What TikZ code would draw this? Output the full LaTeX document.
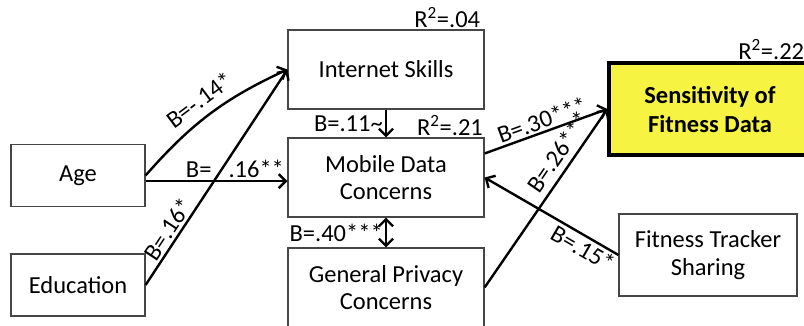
\documentclass[tikz,border=0pt]{standalone}
\usepackage{fontspec}
\setmainfont{Carlito}
\usetikzlibrary{arrows.meta}
\definecolor{boxline}{RGB}{70,70,70}
\definecolor{sensfill}{RGB}{246,243,66}

\begin{document}
\begin{tikzpicture}[x=0.025cm,y=-0.025cm,
    box/.style={draw=boxline,line width=0.8pt,align=center,inner sep=0pt,
        font=\fontsize{17.4}{19.5}\selectfont},
    lab/.style={font=\fontsize{17.4}{19}\selectfont,inner sep=1.5pt},
    path/.style={-{Straight Barb[length=5pt,width=10pt]},line width=1.7pt}]
    \useasboundingbox (0,0) rectangle (804,325);
    % boxes
    \node[box,minimum width=3.35cm,minimum height=1.55cm] (age) at (78,175.5) {Age};
    \node[box,minimum width=3.35cm,minimum height=1.55cm] (edu) at (78,285) {Education};
    \node[box,minimum width=4.9cm,minimum height=1.975cm] (inet) at (386,69.5) {Internet Skills};
    \node[box,minimum width=4.9cm,minimum height=1.975cm] (mobile) at (386,177.5) {Mobile Data\\Concerns};
    \node[box,minimum width=4.9cm,minimum height=1.975cm] (privacy) at (386,287.5) {General Privacy\\Concerns};
    \node[box,draw=black,line width=2.2pt,fill=sensfill,minimum width=5.05cm,minimum height=2.3cm,
        font=\fontsize{17.4}{20.6}\selectfont\bfseries] (sens) at (710,109) {Sensitivity of\\Fitness Data};
    \node[box,minimum width=4.45cm,minimum height=2.05cm] (fts) at (708,255) {Fitness Tracker\\Sharing};
    % R squared
    \node[lab,above left,inner sep=1pt] (r1) at ([xshift=-2pt]inet.north east) {R\textsuperscript{2}=.04};
    \node[lab,above left,inner sep=1pt] (r2) at (mobile.north east) {R\textsuperscript{2}=.21};
    \node[lab,above left,inner sep=1pt] (r3) at ([xshift=-0.17cm]sens.north east) {R\textsuperscript{2}=.22};
    % paths
    \draw[path] (age.east) to[bend left=12] node[lab,sloped,above=4pt,pos=0.5]{B=-.14*} (inet.west);
    \draw[path] ([yshift=-4pt]age.east) -- node[lab,above,pos=0.63]{B=\hspace{0.7em}.16**} ([yshift=-4pt]age.east -| mobile.west);
    \draw[path] (edu.east) -- node[lab,sloped,above,pos=0.23]{B=.16*} (inet.west);
    \draw[path] (inet.south) -- node[lab,left]{B=.11\textasciitilde} (mobile.north);
    \draw[path,{Straight Barb[length=5pt,width=10pt]}-{Straight Barb[length=5pt,width=10pt]}] (mobile.south) -- node[lab,left]{B=.40***} (privacy.north);
    \draw[path] ([yshift=0.6cm]mobile.east) -- node[lab,sloped,above,pos=0.5]{B=.30***} (sens.west);
    \draw[path] (privacy.east) -- node[lab,sloped,above=3pt,pos=0.71]{B=.26***} (sens.west);
    \draw[path] (fts.west) -- node[lab,sloped,below,pos=0.22]{B=.15*} (mobile.east);
\end{tikzpicture}
\end{document}
